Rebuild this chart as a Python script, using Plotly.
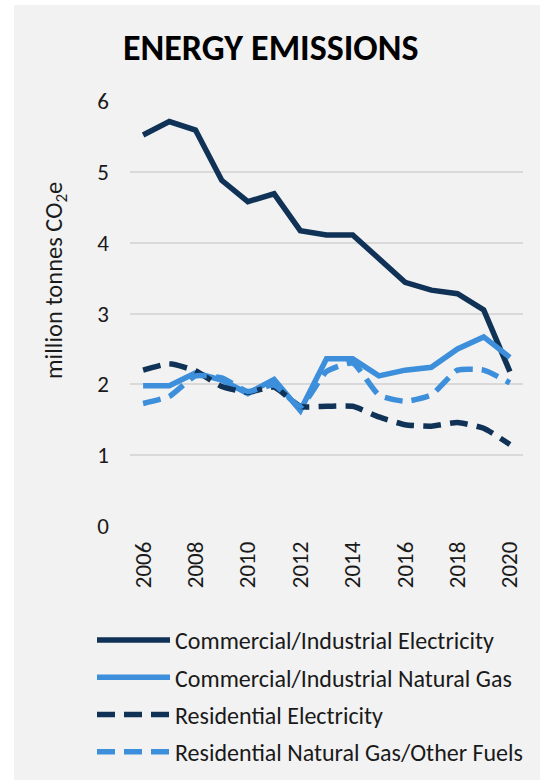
import plotly.graph_objects as go

# Energy emissions by sector, million tonnes CO2e
years = list(range(2006, 2021))
commercial_industrial_electricity = [5.52, 5.71, 5.59, 4.88, 4.58, 4.69, 4.17, 4.11, 4.11, 3.78, 3.44, 3.33, 3.28, 3.05, 2.18]
commercial_industrial_natural_gas = [1.98, 1.98, 2.16, 2.06, 1.87, 2.07, 1.63, 2.36, 2.36, 2.12, 2.20, 2.24, 2.50, 2.67, 2.38]
residential_electricity = [2.20, 2.29, 2.19, 1.97, 1.89, 1.96, 1.69, 1.69, 1.69, 1.54, 1.43, 1.41, 1.46, 1.38, 1.15]
residential_natural_gas_other = [1.73, 1.83, 2.12, 2.09, 1.90, 1.99, 1.69, 2.18, 2.30, 1.85, 1.76, 1.85, 2.20, 2.20, 2.02]

series_names = [
    "Commercial/Industrial Electricity",
    "Commercial/Industrial Natural Gas",
    "Residential Electricity",
    "Residential Natural Gas/Other Fuels",
]
x_tick_labels = [str(y) for y in range(2006, 2021, 2)]
y_tick_values = [0, 1, 2, 3, 4, 5, 6]

DARK = "#0f3256"
LIGHT = "#3d8fdb"
FONT = "Calibri, Carlito, Lato, sans-serif"

W, H = 542, 780
L, R, T, B = 130, 19, 101, 254
pw, ph = W - L - R, H - T - B


def px_x(p):
    return (p - L) / pw


def px_y(p):
    return (H - B - p) / ph


fig = go.Figure()
styles = [
    (commercial_industrial_electricity, DARK, "solid", "linear"),
    (commercial_industrial_natural_gas, LIGHT, "solid", "linear"),
    (residential_electricity, DARK, "18px,9px", "spline"),
    (residential_natural_gas_other, LIGHT, "18px,9px", "spline"),
]
for i, (vals, color, dash, shape) in enumerate(styles):
    fig.add_trace(go.Scatter(
        x=years, y=vals, name=series_names[i], mode="lines",
        line=dict(color=color, width=5.5, dash=dash, shape=shape, smoothing=0.5),
        legendgroup=f"g{i}",
    ))

fig.update_layout(
    width=W, height=H,
    margin=dict(l=L, r=R, t=T, b=B, pad=0, autoexpand=False),
    paper_bgcolor="white",
    plot_bgcolor="rgba(0,0,0,0)",
    font=dict(family=FONT, size=23, color="#1a1a1a"),
    showlegend=True,
    legend=dict(
        x=px_x(92), y=px_y(618), xanchor="left", yanchor="top",
        traceorder="grouped", tracegroupgap=3,
        font=dict(size=24, color="#1a1a1a"),
        bgcolor="rgba(0,0,0,0)", itemwidth=73,
    ),
    shapes=[dict(
        type="rect", xref="paper", yref="paper", layer="below",
        x0=px_x(14), x1=px_x(540), y0=px_y(780), y1=px_y(5),
        fillcolor="#f2f2f2", line=dict(width=0),
    )],
    annotations=[
        dict(text="<b>ENERGY EMISSIONS</b>", xref="paper", yref="paper",
             x=px_x(270), y=px_y(48), xanchor="center", yanchor="middle",
             showarrow=False, font=dict(size=36, color="black", family=FONT)),
        dict(text="million tonnes CO<sub>2</sub>e", xref="paper", yref="paper",
             x=px_x(55), y=px_y(281), xanchor="center", yanchor="middle",
             textangle=-90, showarrow=False, font=dict(size=24.5, color="#1a1a1a")),
    ],
)
fig.update_xaxes(
    range=[2005.5, 2020.5], tickmode="array",
    tickvals=[int(t) for t in x_tick_labels], ticktext=x_tick_labels,
    tickangle=-90, showgrid=False, zeroline=False, showline=False,
    ticks="", ticklabelstandoff=10, tickfont=dict(size=23),
)
fig.update_yaxes(
    range=[0, 6], tickvals=y_tick_values, showgrid=True,
    gridcolor="#d9d9d9", gridwidth=1.5, zeroline=False, showline=False,
    ticks="", ticklabelstandoff=20, tickfont=dict(size=23),
)

fig.write_html("out.html")
